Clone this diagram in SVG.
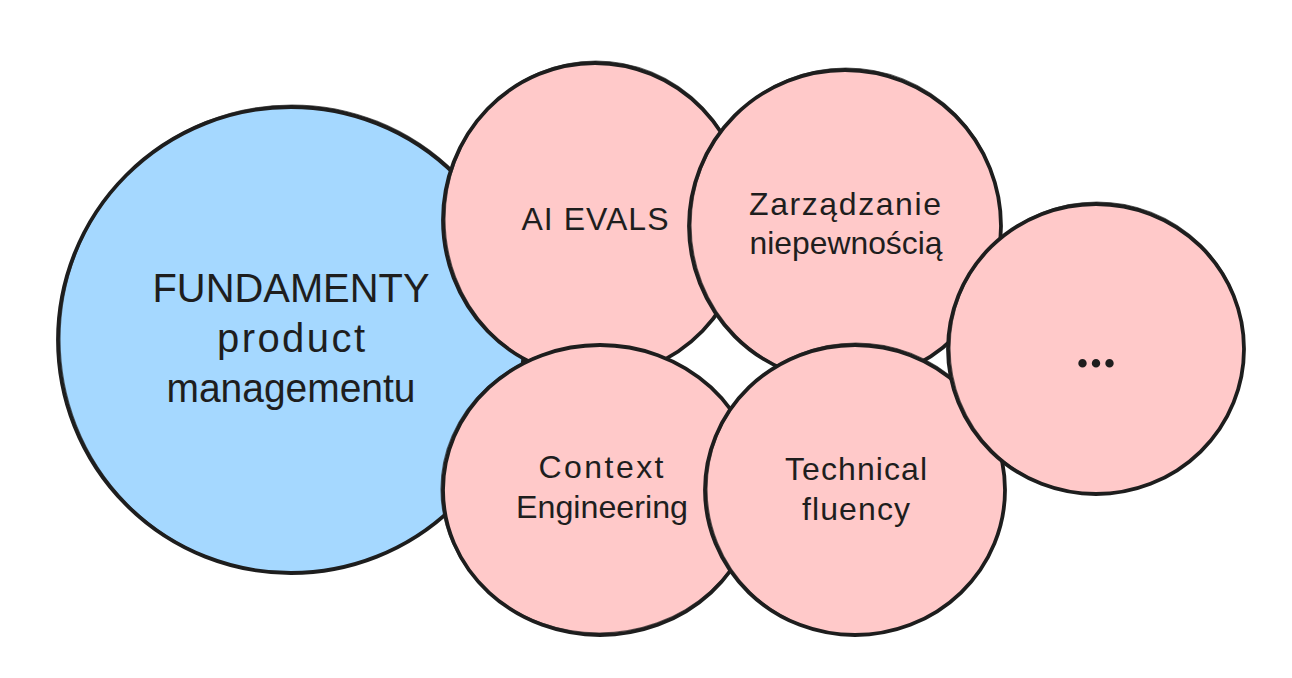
<svg xmlns="http://www.w3.org/2000/svg" width="1292" height="678" viewBox="0 0 1292 678">
  <style>
    .node { stroke: #1e1e1e; stroke-width: 3.8; stroke-linejoin: round; }
    .blue { fill: #a5d8ff; }
    .pink { fill: #ffc9c9; }
    .sketch { fill: none; stroke: #1e1e1e; stroke-width: 1.2; opacity: 0.7; }
    .lbl { font-family: "Liberation Sans", Arial, sans-serif; fill: #1e1e1e; text-anchor: middle; }
    .big { font-size: 40px; }
    .mid { font-size: 32px; }
    .dots { font-family: "Liberation Serif", "Times New Roman", serif; font-size: 52px; font-weight: bold; fill: #1e1e1e; text-anchor: middle; }
  </style>
  <rect x="0" y="0" width="1292" height="678" fill="#ffffff"/>

  <g id="fundamenty">
    <ellipse class="node blue" cx="291" cy="340" rx="233" ry="233"/>
    <ellipse class="sketch" cx="292" cy="339" rx="232" ry="234"/>
    <text class="lbl big" x="291" y="302" textLength="277" lengthAdjust="spacingAndGlyphs">FUNDAMENTY</text>
    <text class="lbl big" x="291" y="352" textLength="148">product</text>
    <text class="lbl big" x="291" y="402" textLength="249" lengthAdjust="spacingAndGlyphs">managementu</text>
  </g>

  <g id="ai-evals">
    <ellipse class="node pink" cx="595" cy="220" rx="152" ry="157"/>
    <ellipse class="sketch" cx="596" cy="219" rx="151" ry="158"/>
    <text class="lbl mid" x="595" y="230" textLength="147">AI EVALS</text>
  </g>

  <g id="zarzadzanie">
    <ellipse class="node pink" cx="845" cy="226" rx="156" ry="156"/>
    <ellipse class="sketch" cx="846" cy="225" rx="155" ry="157"/>
    <text class="lbl mid" x="845" y="215" textLength="192">Zarządzanie</text>
    <text class="lbl mid" x="846" y="254" textLength="193" lengthAdjust="spacingAndGlyphs">niepewnością</text>
  </g>

  <g id="context-engineering">
    <ellipse class="node pink" cx="600" cy="490" rx="157" ry="145"/>
    <ellipse class="sketch" cx="599" cy="489" rx="158" ry="144"/>
    <text class="lbl mid" x="601" y="478" textLength="125">Context</text>
    <text class="lbl mid" x="602" y="518" textLength="172" lengthAdjust="spacingAndGlyphs">Engineering</text>
  </g>

  <g id="technical-fluency">
    <ellipse class="node pink" cx="855" cy="490" rx="150" ry="145"/>
    <ellipse class="sketch" cx="856" cy="489" rx="149" ry="146"/>
    <text class="lbl mid" x="856" y="480" textLength="142">Technical</text>
    <text class="lbl mid" x="856" y="520" textLength="108">fluency</text>
  </g>

  <g id="more">
    <ellipse class="node pink" cx="1096" cy="349" rx="148" ry="145"/>
    <ellipse class="sketch" cx="1097" cy="348" rx="147" ry="146"/>
    <text class="dots" x="1096" y="367" textLength="40" lengthAdjust="spacing">...</text>
  </g>

  <g id="connectors"></g>
</svg>
